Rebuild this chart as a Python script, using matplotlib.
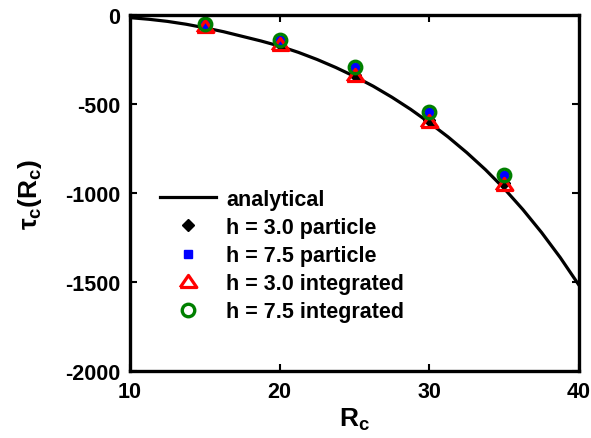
import matplotlib
matplotlib.use("Agg")
import matplotlib.pyplot as plt

plt.rcParams['font.family'] = ['Liberation Sans', 'DejaVu Sans']
plt.rcParams['font.weight'] = 'bold'
plt.rcParams['axes.unicode_minus'] = False
plt.rcParams['mathtext.fontset'] = 'custom'
plt.rcParams['mathtext.rm'] = 'Liberation Sans:bold'
plt.rcParams['mathtext.it'] = 'Liberation Sans:bold'
plt.rcParams['mathtext.bf'] = 'Liberation Sans:bold'

# analytical curve
r_curve = [10, 11.25, 12.5, 13.75, 15, 16.25, 17.5, 18.75, 20, 21.25, 22.5, 23.75, 25,
           26.25, 27.5, 28.75, 30, 31.25, 32.5, 33.75, 35, 36.25, 37.5, 38.75, 40]
tau_curve = [-15, -24, -36, -52, -72, -94, -120, -146, -175, -210, -250, -295, -345,
             -400, -462, -530, -605, -685, -773, -869, -975, -1093, -1222, -1363, -1518]

# simulation results
r_pts = [15, 20, 25, 30, 35]
tau_h3_particle = [-62, -162, -335, -590, -945]
tau_h75_particle = [-50, -140, -295, -545, -900]
tau_h3_integrated = [-70, -170, -340, -600, -955]
tau_h75_integrated = [-50, -140, -295, -545, -900]

# wide, flat triangle like the MATLAB one
tri = [(-1, -0.6), (1, -0.6), (0, 0.85), (-1, -0.6)]

fig = plt.figure(figsize=(5.91, 4.39), dpi=100)
ax = fig.add_axes([0.22, 0.1526, 0.7597, 0.811])

ax.plot(r_curve, tau_curve, color='black', lw=2.3, label='analytical')
ax.plot(r_pts, tau_h3_particle, 'D', color='black', ms=6.5, ls='none',
        label='h = 3.0 particle')
ax.plot(r_pts, tau_h75_particle, 's', color='blue', ms=6, ls='none',
        label='h = 7.5 particle')
ax.plot(r_pts, tau_h3_integrated, marker=tri, mfc='none', mec='red', mew=2.3, ms=12,
        ls='none', label='h = 3.0 integrated')
ax.plot(r_pts, tau_h75_integrated, 'o', mfc='none', mec='green', mew=2.4, ms=9,
        ls='none', label='h = 7.5 integrated')

ax.set_xlim(10, 40)
ax.set_ylim(-2000, 0)
ax.set_xticks([10, 20, 30, 40])
ax.set_yticks([0, -500, -1000, -1500, -2000])
ax.tick_params(direction='in', length=5, width=1.5, top=True, right=True,
               labelsize=15.5, pad=7)
for s in ax.spines.values():
    s.set_linewidth(2.4)

ax.set_xlabel(r'$R_c$', fontsize=19, labelpad=3)
ax.set_ylabel(r'$τ_c(R_c)$', fontsize=19, labelpad=15)

ax.legend(loc='upper left', bbox_to_anchor=(0.253, 0.592), bbox_transform=fig.transFigure,
          frameon=False, fontsize=15.5, labelspacing=0.33, handlelength=2.6,
          handletextpad=0.45, borderpad=0)

fig.savefig('out.png', dpi=100)
